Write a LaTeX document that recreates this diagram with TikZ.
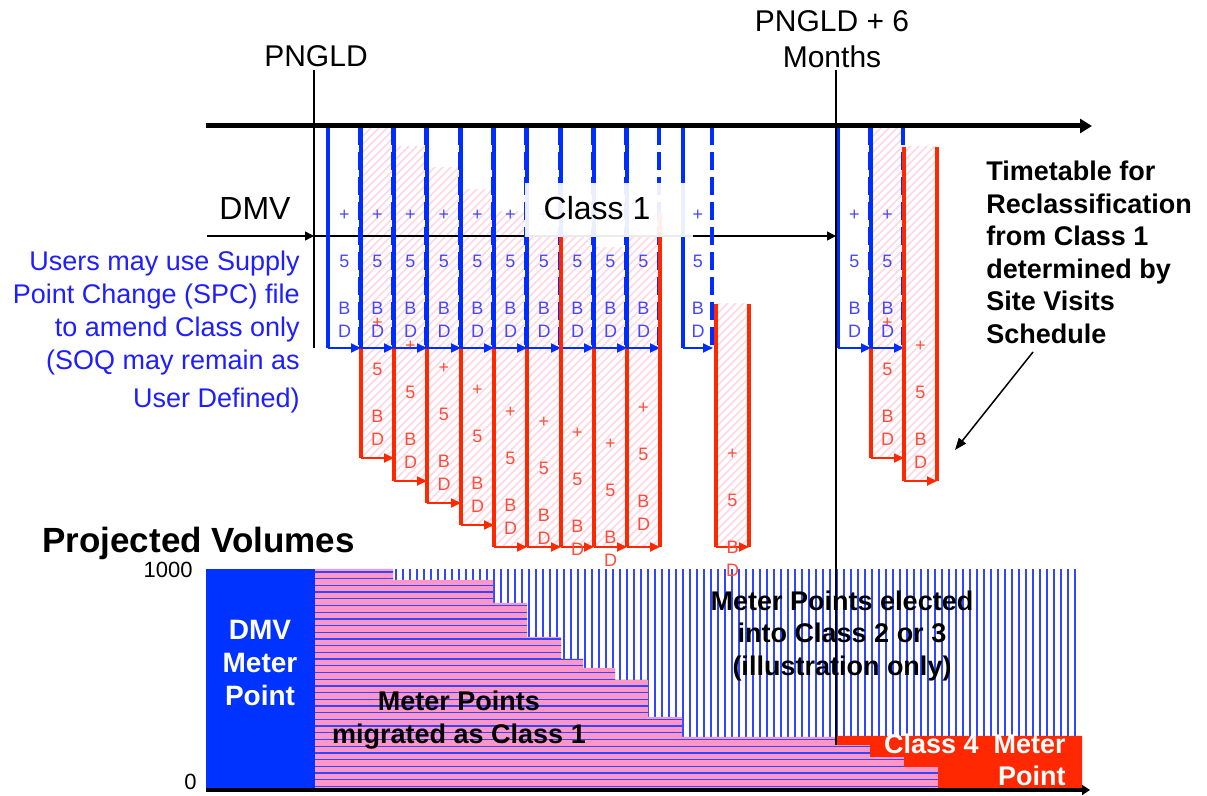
\documentclass[tikz,border=0pt]{standalone}
\usepackage{fontspec}
\setmainfont{Liberation Sans}
\usetikzlibrary{arrows.meta}
\definecolor{lblue}{RGB}{0,45,255}
\definecolor{tblue}{RGB}{70,70,255}
\definecolor{ublue}{RGB}{30,30,255}
\definecolor{lred}{RGB}{255,40,0}
\definecolor{tred}{RGB}{255,75,55}
\definecolor{hpink}{RGB}{255,215,228}
\definecolor{cpink}{RGB}{255,150,200}
\definecolor{dmvblue}{RGB}{0,51,255}
\definecolor{sblue}{RGB}{50,70,255}
\tikzset{
  bvert/.style={draw=lblue,line width=2pt},
  bdash/.style={draw=lblue,line width=2pt,dash pattern=on 9pt off 3.5pt},
  barrow/.style={draw=lblue,line width=0.9pt,-{Triangle[length=5pt,width=4.5pt]}},
  btext/.style={text=tblue,font=\fontsize{9}{11.7}\selectfont,align=center,anchor=north,inner sep=0pt},
  rvert/.style={draw=lred,line width=2pt},
  rarrow/.style={draw=lred,line width=0.9pt,-{Triangle[length=5pt,width=4.5pt]}},
  rtext/.style={text=tred,font=\fontsize{9}{11.7}\selectfont,align=center,anchor=north,inner sep=0pt},
  hatch/.style={draw=hpink,line width=0.8pt},
  thinl/.style={draw=black,line width=0.75pt},
  thinarrow/.style={thinl,-{Triangle[length=4.5pt,width=4.5pt]}},
  hline/.style={draw=sblue,line width=0.65pt},
  vline/.style={draw=sblue,line width=0.65pt},
}
\newcommand\bluebox[3]{%
  \draw[bvert] (#1,127) -- (#1,348);
  \draw[bdash] (#2-1.5,127) -- (#2-1.5,348);
  \draw[barrow] (#1,348) -- (#2,348);
  \node[btext] (#3) at ({(#1+#2)/2},209.8) {+\\[11.7pt]5\\[11.7pt]B\\D};
}
\newcommand\redbox[6]{%
  \begin{scope}
    \clip (#1,#3) rectangle (#2,#4);
    \foreach \k in {0,8,...,400} \draw[hatch] (#1-360+\k,#4) -- ++(360,-360);
  \end{scope}
  \draw[rvert] (#1,#3) -- (#1,#4);
  \draw[rarrow] (#1,#4) -- (#2,#4);
  \node[rtext] (#6) at ({(#1+#2)/2},#5-4.2) {+\\[11.7pt]5\\[11.7pt]B\\D};
}
\begin{document}
\begin{tikzpicture}[x=0.5pt,y=-0.5pt]
\useasboundingbox (0,0) rectangle (1207,796);

% ---------------- bottom chart ----------------
\fill[dmvblue] (206,569) rectangle (315,789);
\begin{scope}
  \clip (393,569) rectangle (1082,737);
  \foreach \x in {396,403,...,1080} \draw[vline] (\x,569) -- (\x,737);
\end{scope}
\def\pinkpoly{(315,569) -- (393,569) -- (393,580) -- (493,580) -- (493,603) -- (527,603) -- (527,637) -- (561,637) -- (561,659) -- (583,659) -- (583,668) -- (615,668) -- (615,680) -- (648,680) -- (648,717) -- (682,717) -- (682,737) -- (837,737) -- (837,745) -- (870,745) -- (870,757) -- (904,757) -- (904,767) -- (938,767) -- (938,788) -- (315,788) -- cycle}
\fill[cpink] \pinkpoly;
\begin{scope}
  \clip \pinkpoly;
  \foreach \y in {572,578.7,...,788} \draw[hline] (315,\y) -- (940,\y);
\end{scope}
\fill[lred] (837,736) -- (1082,736) -- (1082,788) -- (938,788) -- (938,767) -- (904,767) -- (904,757) -- (870,757) -- (870,745) -- (837,745) -- cycle;

\coordinate (ax0) at (206,790);
\coordinate (ax1) at (1090,790);
\draw[line width=2pt,-{Triangle[length=4pt,width=5pt]}] (ax0) -- (ax1);

\node[anchor=base west,inner sep=0pt,font=\bfseries\fontsize{17.5}{20}\selectfont] (projvol) at (42,553) {Projected Volumes};
\node[anchor=base east,inner sep=0pt,font=\fontsize{11}{13}\selectfont] (y1000) at (193,578) {1000};
\node[anchor=base east,inner sep=0pt,font=\fontsize{11}{13}\selectfont] (y0) at (197,790) {0};
\node[anchor=north,inner sep=0pt,align=center,text=white,font=\bfseries\fontsize{14}{16.5}\selectfont] (dmvmp) at (260,620) {DMV\\Meter\\Point};
\node[anchor=north,inner sep=0pt,align=center,font=\bfseries\fontsize{13.5}{16.5}\selectfont] (mpc1) at (459,690.5) {Meter Points\\migrated as Class 1};
\node[anchor=north,inner sep=0pt,align=center,font=\bfseries\fontsize{13.5}{16.25}\selectfont] (mpc23) at (842,590.5) {Meter Points elected\\into Class 2 or 3\\(illustration only)};
\node[anchor=north east,inner sep=0pt,align=right,text=white,font=\bfseries\fontsize{13.5}{16}\selectfont] (class4) at (1066,733.5) {Class 4~~Meter\\Point};

% ---------------- red boxes ----------------
\redbox{361}{394}{127}{458}{322}{r1}
\redbox{394}{427}{147}{481}{345}{r2}
\redbox{427}{461}{168}{503}{367}{r3}
\redbox{461}{494}{190}{525}{389}{r4}
\redbox{494}{527}{212}{547}{411}{r5}
\redbox{527}{561}{226}{547}{421}{r6}
\redbox{561}{594}{237}{547}{432}{r7}
\redbox{594}{627}{248}{547}{443}{r8}
\redbox{627}{660}{212}{547}{407}{r9}
\redbox{716}{749}{304}{547}{453}{r10}
\redbox{871}{904}{127}{458}{322}{r11}
\redbox{904}{937}{147}{481}{345}{r12}

% ---------------- DMV arrow line ----------------
\coordinate (dmvs) at (207,236);
\coordinate (pngldx) at (314,236);
\coordinate (monthsx) at (836,236);
\draw[thinarrow] (dmvs) -- (pngldx);
\draw[thinarrow] (pngldx) -- (monthsx);

% ---------------- blue boxes ----------------
\bluebox{328}{361}{b1}
\bluebox{361}{394}{b2}
\bluebox{394}{427}{b3}
\bluebox{427}{461}{b4}
\bluebox{461}{494}{b5}
\bluebox{494}{527}{b6}
\bluebox{527}{561}{b7}
\bluebox{561}{594}{b8}
\bluebox{594}{627}{b9}
\bluebox{627}{660}{b10}
\bluebox{683}{713}{b11}
\bluebox{838}{871}{b12}
\bluebox{871}{904}{b13}

% red edges drawn over blue
\draw[rvert] (561,237) -- (561,547);
\draw[rvert] (660,212) -- (660,547);
\draw[rvert] (749,304) -- (749,547);
\draw[rvert] (904,147) -- (904,481);
\draw[rvert] (937,147) -- (937,481);

% ---------------- timeline and markers ----------------
\coordinate (tl0) at (206,126);
\coordinate (tl1) at (1092,126);
\draw[line width=2.5pt,-{Triangle[length=6pt,width=7pt]}] (tl0) -- (tl1);

\node[anchor=base,inner sep=0pt,font=\fontsize{15}{18}\selectfont] (pngld) at (316,67) {PNGLD};
\node[anchor=north,inner sep=0pt,align=center,font=\fontsize{15}{18}\selectfont] (months) at (832,10.5) {PNGLD + 6\\Months};
\coordinate (pngldtop) at (314,70);
\coordinate (pngldbot) at (314,348);
\draw[thinl] (pngldtop) -- (pngldbot);
\coordinate (monthstop) at (836,70);
\coordinate (monthsbot) at (836,745);
\draw[thinl] (monthstop) -- (monthsbot);

% ---------------- Class 1 label ----------------
\fill[white,fill opacity=0.92] (525,183) rectangle (693,237);
\node[anchor=base,inner sep=0pt,font=\fontsize{16}{19}\selectfont] (class1) at (597,220) {Class 1};
\node[anchor=base,inner sep=0pt,font=\fontsize{16}{19}\selectfont] (dmv) at (255,220) {DMV};

% ---------------- side texts ----------------
\node[anchor=north east,inner sep=0pt,align=right,text=ublue,font=\fontsize{13.5}{16.5}\selectfont] (users) at (300,250.5) {Users may use Supply\\Point Change (SPC) file\\to amend Class only\\(SOQ may remain as\\[2.5pt]User Defined)};
\node[anchor=north west,inner sep=0pt,align=left,font=\bfseries\fontsize{13.5}{16.3}\selectfont] (timetable) at (986,160.5) {Timetable for\\Reclassification\\from Class 1\\determined by\\Site Visits\\Schedule};
\coordinate (schedstart) at (1033,352);
\coordinate (schedtip) at (955,450);
\draw[thinl,-{Triangle[length=6pt,width=4.5pt]}] (schedstart) -- (schedtip);
\end{tikzpicture}
\end{document}
